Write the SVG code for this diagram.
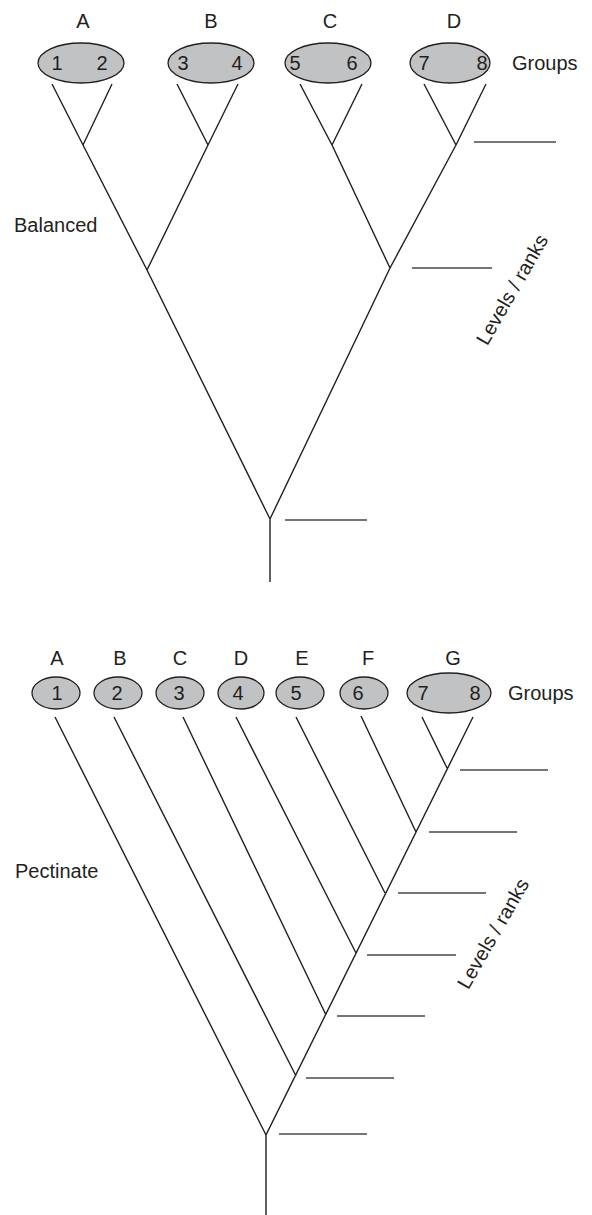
<svg xmlns="http://www.w3.org/2000/svg" width="592" height="1215" viewBox="0 0 592 1215">
<style>
text{font-family:"Liberation Sans",Arial,sans-serif;font-size:20px;fill:#231f20}
.c{text-anchor:middle}
.n{fill:#c1c2c4;stroke:#231f20;stroke-width:1.3}
.e{stroke:#231f20;stroke-width:1.4;fill:none}
.lv{stroke:#4a4a4a;stroke-width:1.5}
</style>
<rect width="592" height="1215" fill="#fff"/>
<!-- Balanced tree -->
<g id="top-labels">
<text class="c" x="83" y="28">A</text>
<text class="c" x="211" y="28">B</text>
<text class="c" x="330" y="28">C</text>
<text class="c" x="454" y="28">D</text>
<text x="512" y="70">Groups</text>
<text x="14" y="232">Balanced</text>
<text class="c" transform="translate(518,293) rotate(-60)">Levels / ranks</text>
</g>
<g id="groupA"><ellipse class="n" cx="81" cy="63" rx="43" ry="20"/><text class="c" x="57" y="70">1</text><text class="c" x="102" y="70">2</text></g>
<g id="groupB"><ellipse class="n" cx="211" cy="63" rx="43" ry="20"/><text class="c" x="183" y="70">3</text><text class="c" x="237" y="70">4</text></g>
<g id="groupC"><ellipse class="n" cx="328" cy="63" rx="43" ry="20"/><text class="c" x="295" y="70">5</text><text class="c" x="352" y="70">6</text></g>
<g id="groupD"><ellipse class="n" cx="450" cy="63" rx="40" ry="20"/><text class="c" x="424" y="70">7</text><text class="c" x="482" y="70">8</text></g>
<g id="top-connectors">
<path class="e" d="M52,84L83,145L112,84M83,145L147,270M177,84L208,145L238,84M208,145L147,270L270,519L390,268M300,84L332,145L362,84M332,145L390,268M424,84L456,145L486,84M456,145L390,268M270,519V582"/>
<path class="lv" d="M474,142H556M412,268H492M285,520H367"/>
</g>
<!-- Pectinate tree -->
<g id="bottom-labels">
<text class="c" x="57" y="665">A</text>
<text class="c" x="120" y="665">B</text>
<text class="c" x="180" y="665">C</text>
<text class="c" x="241" y="665">D</text>
<text class="c" x="302" y="665">E</text>
<text class="c" x="368" y="665">F</text>
<text class="c" x="453" y="665">G</text>
<text x="508" y="700">Groups</text>
<text x="15" y="878">Pectinate</text>
<text class="c" transform="translate(499,937) rotate(-60)">Levels / ranks</text>
</g>
<g id="p1"><ellipse class="n" cx="56" cy="693" rx="24" ry="16"/><text class="c" x="57" y="700">1</text></g>
<g id="p2"><ellipse class="n" cx="118" cy="693" rx="24" ry="16"/><text class="c" x="117" y="700">2</text></g>
<g id="p3"><ellipse class="n" cx="180" cy="693" rx="24" ry="16"/><text class="c" x="179" y="700">3</text></g>
<g id="p4"><ellipse class="n" cx="241" cy="693" rx="23" ry="16"/><text class="c" x="238" y="700">4</text></g>
<g id="p5"><ellipse class="n" cx="300" cy="693" rx="24" ry="16"/><text class="c" x="296" y="700">5</text></g>
<g id="p6"><ellipse class="n" cx="364" cy="693" rx="24" ry="16"/><text class="c" x="358" y="700">6</text></g>
<g id="pG"><ellipse class="n" cx="449" cy="693" rx="42" ry="20"/><text class="c" x="423" y="700">7</text><text class="c" x="475" y="700">8</text></g>
<g id="bottom-connectors">
<path class="e" d="M55,717L266,1135M114,717L296,1076M183,717L326,1015M236,717L356,953M296,717L385,893M361,716L416,832M422,717L447,768M473,717L266,1135V1215"/>
<path class="lv" d="M460,770H548M429,832H517M398,893H486M367,955H456M337,1016H425M306,1078H394M279,1134H367"/>
</g>
</svg>
